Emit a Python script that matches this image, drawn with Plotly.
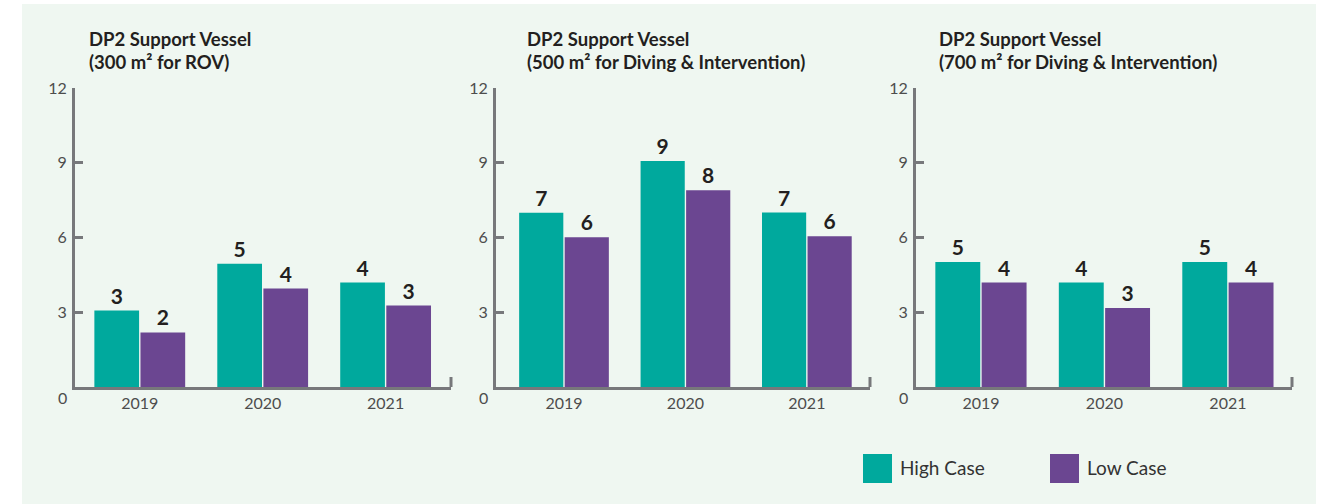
import plotly.graph_objects as go

# ---------------- data ----------------
years = ["2019", "2020", "2021"]

title_line1 = ["DP2 Support Vessel", "DP2 Support Vessel", "DP2 Support Vessel"]
title_line2 = [
    "(300 m² for ROV)",
    "(500 m² for Diving &amp; Intervention)",
    "(700 m² for Diving &amp; Intervention)",
]

high_rov = [3.07, 4.95, 4.19]
low_rov = [2.19, 3.95, 3.27]
high_rov_labels = ["3", "5", "4"]
low_rov_labels = ["2", "4", "3"]

high_500 = [6.99, 9.07, 7.0]
low_500 = [6.01, 7.9, 6.05]
high_500_labels = ["7", "9", "7"]
low_500_labels = ["6", "8", "6"]

high_700 = [5.02, 4.19, 5.02]
low_700 = [4.19, 3.17, 4.19]
high_700_labels = ["5", "4", "5"]
low_700_labels = ["4", "3", "4"]

y_ticks = [3, 6, 9, 12]
y_tick_text = ["3", "6", "9", "12"]

series_names = ["High Case", "Low Case"]

# ---------------- styles ----------------
W, H = 1326, 504
TEAL = "#00a99d"
PURPLE = "#6b4691"
BG = "#eff7f1"
AXIS = "#77787b"
TXT = "#231f20"
TICK = "#4d4d4d"
FONT = "Lato"

panels = [
    (high_rov, low_rov, high_rov_labels, low_rov_labels),
    (high_500, low_500, high_500_labels, low_500_labels),
    (high_700, low_700, high_700_labels, low_700_labels),
]
# pixel layout of each panel: (axis left, axis right, x range)
px_dom = [(75, 451, [-0.527, 2.532]), (496, 870, [-0.56, 2.52]), (916, 1292, [-0.526, 2.519])]
title_x = [87, 525, 937]
y0_px, y12_px = 387, 88

fig = go.Figure()

layout = dict(
    width=W, height=H,
    margin=dict(l=0, r=0, t=0, b=0, pad=0, autoexpand=False),
    paper_bgcolor="white",
    plot_bgcolor="rgba(0,0,0,0)",
    barmode="group",
    bargap=0.25,
    bargroupgap=0.03,
    showlegend=False,
    font=dict(family=FONT, color=TXT, size=16),
)

annotations = []
shapes = [
    dict(type="rect", xref="paper", yref="paper",
         x0=22 / W, x1=1316 / W, y0=0, y1=1 - 4 / H,
         fillcolor=BG, line=dict(width=0), layer="below"),
]

for i, (hv, lv, hl, ll) in enumerate(panels):
    k = "" if i == 0 else str(i + 1)
    xa, ya = "x" + k, "y" + k
    left, right, xr = px_dom[i]
    for vals, labs, col, name in [(hv, hl, TEAL, series_names[0]), (lv, ll, PURPLE, series_names[1])]:
        fig.add_trace(go.Bar(
            x=years, y=vals, text=labs, name=name,
            marker=dict(color=col, line=dict(width=0)),
            textposition="outside", cliponaxis=False,
            textfont=dict(family=FONT, size=21, color=TXT, weight=700),
            xaxis=xa, yaxis=ya, showlegend=False,
        ))
    layout["xaxis" + k] = dict(
        domain=[left / W, right / W], anchor=ya, type="category",
        range=xr, showline=True, linecolor=AXIS, linewidth=3,
        showgrid=False, zeroline=False, ticks="", automargin=False,
        tickfont=dict(family=FONT, size=16, color=TICK),
        ticklabelstandoff=0, fixedrange=True,
    )
    layout["yaxis" + k] = dict(
        domain=[1 - y0_px / H, 1 - y12_px / H], anchor=xa,
        range=[0, 12], showline=True, linecolor=AXIS, linewidth=3,
        showgrid=False, zeroline=False, automargin=False,
        tickvals=y_ticks, ticktext=y_tick_text,
        ticks="inside", ticklen=8, tickwidth=3, tickcolor=AXIS,
        tickfont=dict(family=FONT, size=16, color=TICK),
        ticklabelstandoff=2, fixedrange=True,
    )
    # "0" label, sitting below the baseline as in the original
    annotations.append(dict(
        xref=xa + " domain", yref=ya, x=0, y=0, text="0", showarrow=False,
        xanchor="right", yanchor="middle", xshift=-6, yshift=-10,
        font=dict(family=FONT, size=16, color=TICK),
    ))
    # small upturned end tick on the x axis
    shapes.append(dict(
        type="line", xref=xa + " domain", yref=ya + " domain",
        x0=1, x1=1, y0=0, y1=10 / (y0_px - y12_px),
        line=dict(color=AXIS, width=3),
    ))
    # panel title (two lines)
    annotations.append(dict(
        xref="paper", yref="paper", x=title_x[i] / W, y=1 - 39 / H,
        text="<b>" + title_line1[i] + "</b>", showarrow=False,
        xanchor="left", yanchor="middle", align="left",
        font=dict(family=FONT, size=18.5, color=TXT),
    ))
    annotations.append(dict(
        xref="paper", yref="paper", x=title_x[i] / W, y=1 - 61.5 / H,
        text="<b>" + title_line2[i] + "</b>", showarrow=False,
        xanchor="left", yanchor="middle", align="left",
        font=dict(family=FONT, size=18.5, color=TXT),
    ))

# custom legend with large swatches
legend_items = [(series_names[0], TEAL, 863), (series_names[1], PURPLE, 1050)]
for name, col, lx in legend_items:
    shapes.append(dict(
        type="rect", xref="paper", yref="paper",
        x0=lx / W, x1=(lx + 29) / W, y0=1 - 483 / H, y1=1 - 454 / H,
        fillcolor=col, line=dict(width=0),
    ))
    annotations.append(dict(
        xref="paper", yref="paper", x=(lx + 35) / W, y=1 - 467 / H,
        text=name, showarrow=False, xanchor="left", yanchor="middle",
        font=dict(family=FONT, size=19, color="#333333"),
    ))

layout["annotations"] = annotations
layout["shapes"] = shapes
fig.update_layout(**layout)

fig.write_html(
    "out.html",
    config={"displayModeBar": False, "staticPlot": True},
    post_script=(
        "document.documentElement.style.margin='0';"
        "document.body.style.margin='0';"
        "document.body.style.overflow='hidden';"
        "var d=document.getElementById('{plot_id}');"
        "d.style.position='fixed';d.style.left='0px';d.style.top='0px';"
    ),
)
